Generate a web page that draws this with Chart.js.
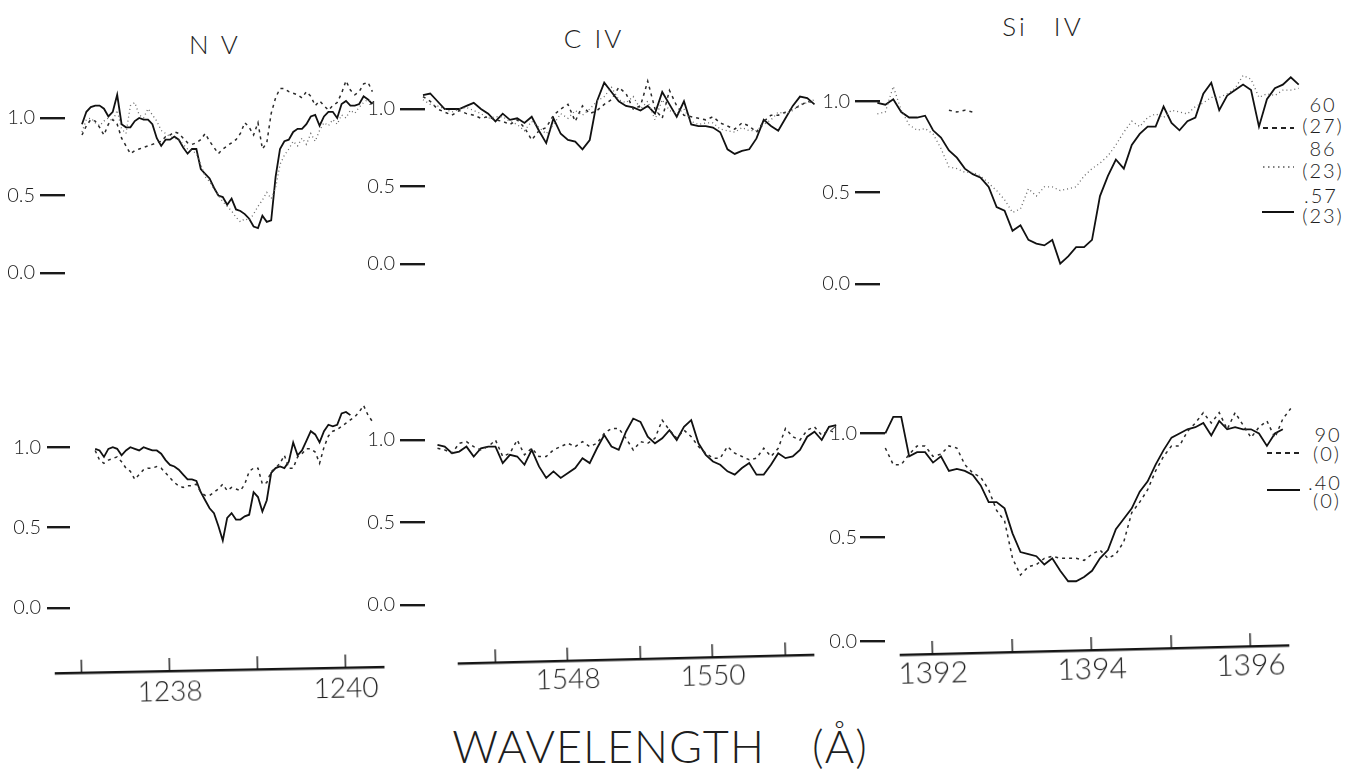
<!DOCTYPE html>
<html>
<head>
<meta charset="utf-8">
<title>UV resonance line profiles</title>
<script src="https://cdn.jsdelivr.net/npm/chart.js@4/dist/chart.umd.min.js"></script>
<style>
  html, body { margin: 0; padding: 0; background: #fff; }
  body { width: 1361px; height: 769px; position: relative; overflow: hidden;
         font-family: "Lato", "Liberation Sans", Arial, sans-serif; font-weight: 300; color: #1e1e1e; }
  canvas { position: absolute; }
  .txt { position: absolute; transform: translate(-50%, -50%); line-height: 1; white-space: pre; }
  .title { font-size: 26px; letter-spacing: 3px; }
  .key { font-size: 20px; letter-spacing: 2px; }
  #keys { position: absolute; left: 0; top: 0; }
</style>
</head>
<body>

<div class="txt title" style="left:215px;top:44px;">N V</div>
<div class="txt title" style="left:594px;top:38px;">C IV</div>
<div class="txt title" style="left:1043px;top:26px;word-spacing:16px;">Si IV</div>

<div class="txt key" style="left:1323px;top:104px;">60</div>
<div class="txt key" style="left:1323px;top:125px;">(27)</div>
<div class="txt key" style="left:1323px;top:148px;">86</div>
<div class="txt key" style="left:1323px;top:170px;">(23)</div>
<div class="txt key" style="left:1321px;top:195px;">.57</div>
<div class="txt key" style="left:1323px;top:215px;">(23)</div>
<div class="txt key" style="left:1328px;top:434px;">90</div>
<div class="txt key" style="left:1327px;top:453px;">(0)</div>
<div class="txt key" style="left:1325px;top:482px;">.40</div>
<div class="txt key" style="left:1327px;top:500px;">(0)</div>

<svg id="keys" width="1361" height="769">
  <line x1="1263" y1="128" x2="1294" y2="128" stroke="#222" stroke-width="1.8" stroke-dasharray="5 4"/>
  <line x1="1263" y1="167" x2="1294" y2="167" stroke="#555" stroke-width="1.5" stroke-dasharray="1.5 3.5"/>
  <line x1="1262" y1="212" x2="1294" y2="212" stroke="#111" stroke-width="2"/>
  <line x1="1267" y1="453" x2="1299" y2="453" stroke="#222" stroke-width="1.8" stroke-dasharray="5 4"/>
  <line x1="1267" y1="490" x2="1300" y2="490" stroke="#111" stroke-width="2"/>
</svg>

<div class="txt" style="left:660px;top:746px;font-size:45px;letter-spacing:1px;word-spacing:34px;">WAVELENGTH (Å)</div>

<script>
// ---------- tick values ----------
const yTickValues = [0, 0.5, 1.0];

const nvAxisTicks = [1237, 1238, 1239, 1240];
const nvAxisLabels = [1238, 1240];
const civAxisTicks = [1547, 1548, 1549, 1550, 1551];
const civAxisLabels = [1548, 1550];
const siivAxisTicks = [1392, 1393, 1394, 1395, 1396];
const siivAxisLabels = [1392, 1394, 1396];

// ---------- N V, upper set (phases .60, .86, .57) ----------
const nvTopWave = [
  1237.00,1237.05,1237.10,1237.15,1237.20,1237.25,1237.30,1237.35,1237.40,1237.45,
  1237.50,1237.55,1237.60,1237.65,1237.70,1237.75,1237.80,1237.85,1237.90,1237.95,
  1238.00,1238.05,1238.10,1238.15,1238.20,1238.25,1238.30,1238.35,1238.40,1238.45,
  1238.50,1238.55,1238.60,1238.65,1238.70,1238.75,1238.80,1238.85,1238.90,1238.95,
  1239.00,1239.05,1239.10,1239.15,1239.20,1239.25,1239.30,1239.35,1239.40,1239.45,
  1239.50,1239.55,1239.60,1239.65,1239.70,1239.75,1239.80,1239.85,1239.90,1239.95,
  1240.00,1240.05,1240.10,1240.15,1240.20,1240.25,1240.30];
const nvTopSolid = [
  0.96,1.04,1.07,1.08,1.08,1.06,1.01,1.04,1.15,0.96,
  0.94,0.94,0.98,1.00,0.99,0.99,0.96,0.87,0.82,0.86,
  0.86,0.88,0.86,0.81,0.77,0.80,0.80,0.67,0.64,0.61,
  0.55,0.50,0.49,0.44,0.48,0.41,0.40,0.38,0.35,0.30,
  0.29,0.37,0.33,0.34,0.62,0.80,0.85,0.86,0.91,0.93,
  0.93,0.96,1.01,1.02,0.95,1.01,1.04,1.04,1.00,1.09,
  1.11,1.08,1.08,1.09,1.14,1.12,1.09];
const nvTopDashed = [
  0.89,0.95,0.99,0.98,0.94,0.89,0.96,0.99,0.96,0.87,
  0.82,0.77,0.79,0.80,0.81,0.82,0.83,0.84,0.85,0.88,
  0.89,0.91,0.90,0.87,0.84,0.83,0.84,0.86,0.90,0.85,
  0.81,0.77,0.80,0.82,0.84,0.86,0.90,0.97,0.94,0.89,
  0.97,0.80,0.84,1.03,1.13,1.19,1.19,1.17,1.16,1.15,
  1.13,1.17,1.14,1.08,1.11,1.08,1.05,1.08,1.10,1.16,
  1.24,1.18,1.15,1.17,1.22,1.23,1.17];
const nvTopDotted = [
  0.91,0.99,1.00,0.97,0.95,0.98,1.00,0.98,1.05,0.93,
  0.90,1.08,1.10,1.02,1.00,1.06,1.02,0.98,0.92,0.90,
  0.88,0.87,0.86,0.83,0.80,0.79,0.77,0.70,0.62,0.59,
  0.54,0.50,0.46,0.43,0.40,0.36,0.33,0.35,0.34,0.38,
  0.43,0.47,0.52,0.48,0.55,0.70,0.76,0.80,0.85,0.82,
  0.87,0.83,0.90,0.85,0.92,0.97,0.95,0.99,0.96,1.02,
  1.00,1.05,1.03,1.07,1.10,1.12,1.10];

// ---------- C IV, upper set ----------
const civTopWave = [
  1545.8,1545.9,1546.0,1546.1,1546.2,1546.3,1546.4,1546.5,1546.6,1546.7,
  1546.8,1546.9,1547.0,1547.1,1547.2,1547.3,1547.4,1547.5,1547.6,1547.7,
  1547.8,1547.9,1548.0,1548.1,1548.2,1548.3,1548.4,1548.5,1548.6,1548.7,
  1548.8,1548.9,1549.0,1549.1,1549.2,1549.3,1549.4,1549.5,1549.6,1549.7,
  1549.8,1549.9,1550.0,1550.1,1550.2,1550.3,1550.4,1550.5,1550.6,1550.7,
  1550.8,1550.9,1551.0,1551.1,1551.2,1551.3,1551.4];
const civTopSolid = [
  1.09,1.11,1.09,1.10,1.05,1.00,1.00,1.00,1.02,1.04,
  1.00,0.97,0.92,0.97,0.93,0.94,0.91,0.95,0.86,0.78,
  0.94,0.84,0.80,0.79,0.74,0.80,1.05,1.17,1.11,1.05,
  1.02,1.01,0.99,1.02,0.97,1.11,1.03,0.95,1.05,0.90,
  0.89,0.89,0.88,0.85,0.74,0.71,0.73,0.74,0.81,0.93,
  0.89,0.86,0.94,1.02,1.08,1.07,1.03];
const civTopDashed = [
  1.06,1.04,1.08,1.05,1.00,0.98,0.96,0.99,0.97,0.96,
  0.94,0.95,0.93,0.92,0.90,0.93,0.88,0.80,0.86,0.88,
  0.96,1.00,1.03,0.92,1.02,0.97,0.99,1.03,1.06,1.14,
  1.10,1.00,1.02,1.18,1.00,0.94,1.12,1.02,0.96,0.95,
  0.94,0.93,0.95,0.91,0.89,0.87,0.91,0.89,0.85,0.92,
  0.96,0.96,0.98,1.00,1.02,1.05,1.04];
const civTopDotted = [
  1.04,1.08,1.06,1.03,1.02,1.00,0.98,1.00,1.01,0.99,
  0.97,0.94,0.95,0.95,0.92,0.90,0.86,0.92,0.88,0.84,
  0.90,0.97,0.94,0.99,0.96,1.00,1.05,1.08,1.14,1.06,
  1.04,1.08,1.00,1.05,0.93,1.06,0.99,0.97,1.00,0.92,
  0.90,0.91,0.91,0.87,0.86,0.85,0.88,0.86,0.86,0.90,
  0.93,0.98,0.97,0.99,1.03,1.04,1.06];

// ---------- Si IV, upper set ----------
const siivTopWave = [
  1391.3,1391.4,1391.5,1391.6,1391.7,1391.8,1391.9,1392.0,1392.1,1392.2,
  1392.3,1392.4,1392.5,1392.6,1392.7,1392.8,1392.9,1393.0,1393.1,1393.2,
  1393.3,1393.4,1393.5,1393.6,1393.7,1393.8,1393.9,1394.0,1394.1,1394.2,
  1394.3,1394.4,1394.5,1394.6,1394.7,1394.8,1394.9,1395.0,1395.1,1395.2,
  1395.3,1395.4,1395.5,1395.6,1395.7,1395.8,1395.9,1396.0,1396.1,1396.2,
  1396.3,1396.4,1396.5,1396.6];
const siivTopSolid = [
  0.99,0.98,1.01,0.94,0.91,0.91,0.92,0.84,0.80,0.73,
  0.69,0.63,0.60,0.58,0.53,0.42,0.40,0.29,0.32,0.24,
  0.22,0.21,0.24,0.11,0.15,0.20,0.20,0.24,0.48,0.59,
  0.68,0.63,0.76,0.82,0.86,0.86,0.97,0.88,0.84,0.89,
  0.91,1.04,1.10,0.95,1.03,1.06,1.09,1.06,0.86,1.01,
  1.07,1.09,1.13,1.09];
const siivTopDotted = [
  0.93,0.94,1.08,0.95,0.87,0.84,0.85,0.82,0.74,0.64,
  0.63,0.61,0.61,0.59,0.55,0.51,0.46,0.39,0.41,0.52,
  0.48,0.53,0.53,0.51,0.52,0.53,0.59,0.63,0.66,0.70,
  0.76,0.83,0.89,0.86,0.91,0.93,0.91,0.95,0.94,0.93,
  0.97,0.99,1.02,1.02,1.04,1.07,1.14,1.12,1.02,1.04,
  1.03,1.06,1.06,1.07];
const siivTopDashed = [
  null,null,null,null,null,null,null,null,null,0.95,
  0.94,0.95,0.94,null,null,null,null,null,null,null,
  null,null,null,null,null,null,null,null,null,null,
  null,null,null,null,null,null,null,null,null,null,
  null,null,null,null,null,null,null,null,null,null,
  null,null,null,null];

// ---------- N V, lower set (phases .90, .40) ----------
const nvBotWave = [
  1237.15,1237.20,1237.25,1237.30,1237.35,1237.40,1237.45,1237.50,1237.55,1237.60,
  1237.65,1237.70,1237.75,1237.80,1237.85,1237.90,1237.95,1238.00,1238.05,1238.10,
  1238.15,1238.20,1238.25,1238.30,1238.35,1238.40,1238.45,1238.50,1238.55,1238.60,
  1238.65,1238.70,1238.75,1238.80,1238.85,1238.90,1238.95,1239.00,1239.05,1239.10,
  1239.15,1239.20,1239.25,1239.30,1239.35,1239.40,1239.45,1239.50,1239.55,1239.60,
  1239.65,1239.70,1239.75,1239.80,1239.85,1239.90,1239.95,1240.00,1240.05,1240.10,
  1240.15,1240.20,1240.25,1240.30];
const nvBotSolid = [
  0.99,0.98,0.94,0.99,1.00,0.99,0.95,0.98,1.00,0.99,
  0.98,1.00,0.99,0.98,0.98,0.96,0.92,0.89,0.88,0.86,
  0.83,0.80,0.80,0.79,0.72,0.67,0.62,0.59,0.51,0.42,
  0.56,0.59,0.55,0.55,0.57,0.58,0.72,0.69,0.60,0.67,
  0.84,0.87,0.88,0.87,0.91,1.03,0.95,0.98,1.04,1.10,
  1.08,1.03,1.10,1.14,1.13,1.14,1.21,1.22,1.20,null,
  null,null,null,null];
const nvBotDashed = [
  0.98,0.92,0.90,0.92,0.93,0.94,0.91,0.87,0.85,0.80,
  0.83,0.86,0.87,0.87,0.88,0.87,0.84,0.81,0.78,0.76,
  0.75,0.76,0.76,0.77,0.72,0.70,0.70,0.72,0.74,0.77,
  0.73,0.75,0.74,0.73,0.77,0.85,0.87,0.87,0.77,0.78,
  0.85,0.87,0.90,0.95,0.87,0.87,0.94,0.96,0.99,0.99,
  0.97,0.90,1.00,1.07,1.10,1.11,1.13,1.15,1.17,1.19,
  1.22,1.26,1.20,1.16];

// ---------- C IV, lower set ----------
const civBotWave = [
  1546.2,1546.3,1546.4,1546.5,1546.6,1546.7,1546.8,1546.9,1547.0,1547.1,
  1547.2,1547.3,1547.4,1547.5,1547.6,1547.7,1547.8,1547.9,1548.0,1548.1,
  1548.2,1548.3,1548.4,1548.5,1548.6,1548.7,1548.8,1548.9,1549.0,1549.1,
  1549.2,1549.3,1549.4,1549.5,1549.6,1549.7,1549.8,1549.9,1550.0,1550.1,
  1550.2,1550.3,1550.4,1550.5,1550.6,1550.7,1550.8,1550.9,1551.0,1551.1,
  1551.2,1551.3,1551.4,1551.5,1551.6,1551.7];
const civBotSolid = [
  0.97,0.96,0.92,0.93,0.96,0.90,0.95,0.96,0.96,0.86,
  0.91,0.90,0.85,0.94,0.84,0.77,0.81,0.77,0.80,0.83,
  0.89,0.86,0.95,1.03,0.96,0.94,1.05,1.13,1.11,1.02,
  0.98,1.01,1.06,1.00,1.08,1.12,0.98,0.91,0.87,0.85,
  0.81,0.79,0.83,0.86,0.79,0.79,0.85,0.92,0.89,0.90,
  0.94,1.02,1.05,1.00,1.08,1.09];
const civBotDashed = [
  0.95,0.94,0.92,0.98,0.99,0.96,0.94,0.96,1.00,0.90,
  0.92,1.00,0.91,0.95,0.90,0.90,0.94,0.96,0.98,0.96,
  0.99,0.96,0.98,1.04,1.07,1.07,1.01,0.94,0.99,0.98,
  1.01,1.12,1.06,1.01,1.06,1.02,0.96,0.92,0.89,0.89,
  0.96,0.92,0.90,0.88,0.89,0.95,0.90,0.95,1.07,1.02,
  1.00,1.06,1.08,1.03,1.06,1.04];

// ---------- Si IV, lower set ----------
const siivBotWave = [
  1391.4,1391.5,1391.6,1391.7,1391.8,1391.9,1392.0,1392.1,1392.2,1392.3,
  1392.4,1392.5,1392.6,1392.7,1392.8,1392.9,1393.0,1393.1,1393.2,1393.3,
  1393.4,1393.5,1393.6,1393.7,1393.8,1393.9,1394.0,1394.1,1394.2,1394.3,
  1394.4,1394.5,1394.6,1394.7,1394.8,1394.9,1395.0,1395.1,1395.2,1395.3,
  1395.4,1395.5,1395.6,1395.7,1395.8,1395.9,1396.0,1396.1,1396.2,1396.3,
  1396.4,1396.5];
const siivBotSolid = [
  1.00,1.08,1.08,0.89,0.91,0.91,0.86,0.89,0.82,0.83,
  0.82,0.80,0.75,0.67,0.67,0.64,0.52,0.43,0.42,0.41,
  0.37,0.40,0.34,0.29,0.29,0.31,0.34,0.40,0.44,0.54,
  0.59,0.64,0.72,0.77,0.85,0.92,0.98,1.00,1.02,1.03,
  1.05,0.99,1.06,1.02,1.03,1.02,1.02,1.00,0.94,1.00,
  1.02,null];
const siivBotDashed = [
  0.93,0.85,0.85,0.90,0.94,0.94,0.89,0.90,0.94,0.93,
  0.85,0.81,0.79,0.73,0.63,0.58,0.40,0.32,0.36,0.37,
  0.40,0.41,0.40,0.40,0.40,0.39,0.42,0.44,0.40,0.42,
  0.48,0.62,0.67,0.73,0.82,0.89,0.94,0.94,1.01,1.05,
  1.10,1.05,1.10,1.02,1.10,1.04,0.98,1.03,1.06,0.98,
  1.07,1.12];

// ---------- drawing ----------
const FONT = '"Lato", "Liberation Sans", Arial, sans-serif';
const INK = '#1e1e1e';

const lineStyles = {
  solid:  { borderColor: '#111111', borderWidth: 1.8, borderDash: [] },
  dashed: { borderColor: '#2a2a2a', borderWidth: 1.5, borderDash: [3, 4] },
  dotted: { borderColor: '#6a6a6a', borderWidth: 1.3, borderDash: [1, 3] }
};

function addCanvas(left, top, w, h, rotate) {
  const c = document.createElement('canvas');
  c.width = w; c.height = h;
  c.style.left = left + 'px';
  c.style.top = top + 'px';
  c.style.width = w + 'px';
  c.style.height = h + 'px';
  if (rotate) c.style.transform = 'rotate(' + rotate + 'deg)';
  document.body.appendChild(c);
  return c;
}

// One spectrum panel: its own y-axis (0.0 / 0.5 / 1.0 with dash marks), hidden wavelength axis.
function spectrumPanel(p) {
  const c = addCanvas(p.left, p.top, p.w, p.h);
  const datasets = p.series.map(s => Object.assign({
    data: p.wave.map((w, i) => ({ x: w, y: s.values[i] })),
    pointRadius: 0,
    tension: 0,
    fill: false,
    spanGaps: false,
    clip: false
  }, lineStyles[s.style]));
  return new Chart(c, {
    type: 'line',
    data: { datasets },
    options: {
      responsive: false,
      animation: false,
      devicePixelRatio: 1,
      layout: { padding: 0 },
      plugins: { legend: { display: false }, tooltip: { enabled: false } },
      scales: {
        x: { type: 'linear', min: p.xMin, max: p.xMax, display: false },
        y: {
          type: 'linear', position: 'left', min: p.yMin, max: p.yMax,
          afterBuildTicks: a => { a.ticks = yTickValues.map(v => ({ value: v })); },
          afterFit: a => { a.width = p.axisW; a.paddingTop = 0; a.paddingBottom = 0; },
          ticks: {
            autoSkip: false,
            padding: p.labelPad,
            color: INK,
            font: { family: FONT, size: 20, weight: '300' },
            callback: v => Number(v).toFixed(1)
          },
          grid: { drawOnChartArea: false, drawTicks: true, tickLength: p.tickLen,
                  color: '#1a1a1a', lineWidth: 2.4 },
          border: { display: false }
        }
      }
    }
  });
}

// Wavelength axis strip: baseline with upward tick marks and labels below.
function wavelengthAxis(p) {
  const c = addCanvas(p.left, p.top, p.w, p.tickH + p.labelH, p.rotate);
  return new Chart(c, {
    type: 'line',
    data: { datasets: [] },
    options: {
      responsive: false,
      animation: false,
      devicePixelRatio: 1,
      layout: { padding: 0 },
      plugins: { legend: { display: false }, tooltip: { enabled: false } },
      scales: {
        y: { display: false, min: 0, max: 1 },
        x: {
          type: 'linear', position: 'bottom', min: p.xMin, max: p.xMax,
          afterBuildTicks: a => { a.ticks = p.ticks.map(v => ({ value: v })); },
          afterFit: a => { a.height = p.labelH; a.paddingLeft = 0; a.paddingRight = 0; },
          ticks: {
            autoSkip: false, maxRotation: 0, minRotation: 0,
            padding: p.labelPad,
            color: INK,
            font: { family: FONT, size: p.fontSize, weight: '300' },
            callback: v => p.labels.includes(v) ? String(v) : ''
          },
          grid: { drawOnChartArea: true, drawTicks: false, color: '#1a1a1a', lineWidth: 1.4 },
          border: { display: true, color: '#151515', width: 2.6 }
        }
      }
    }
  });
}

// upper row
spectrumPanel({ left: 5, top: 56, w: 385, h: 248, axisW: 60, tickLen: 25, labelPad: 5,
  xMin: 1236.807, xMax: 1240.5, yMin: -0.2, yMax: 1.4, wave: nvTopWave,
  series: [ { values: nvTopDotted, style: 'dotted' },
            { values: nvTopDashed, style: 'dashed' },
            { values: nvTopSolid, style: 'solid' } ] });

spectrumPanel({ left: 365, top: 47, w: 465, h: 248, axisW: 60, tickLen: 25, labelPad: 5,
  xMin: 1546.028, xMax: 1551.614, yMin: -0.2, yMax: 1.4, wave: civTopWave,
  series: [ { values: civTopDotted, style: 'dotted' },
            { values: civTopDashed, style: 'dashed' },
            { values: civTopSolid, style: 'solid' } ] });

spectrumPanel({ left: 820, top: 28, w: 480, h: 274, axisW: 60, tickLen: 25, labelPad: 5,
  xMin: 1391.333, xMax: 1396.616, yMin: -0.1, yMax: 1.4, wave: siivTopWave,
  series: [ { values: siivTopDotted, style: 'dotted' },
            { values: siivTopDashed, style: 'dashed' },
            { values: siivTopSolid, style: 'solid' } ] });

// lower row
spectrumPanel({ left: 10, top: 383, w: 380, h: 257, axisW: 60, tickLen: 23, labelPad: 6,
  xMin: 1236.864, xMax: 1240.5, yMin: -0.2, yMax: 1.4, wave: nvBotWave,
  series: [ { values: nvBotDashed, style: 'dashed' },
            { values: nvBotSolid, style: 'solid' } ] });

spectrumPanel({ left: 365, top: 374, w: 475, h: 264, axisW: 60, tickLen: 25, labelPad: 5,
  xMin: 1546.028, xMax: 1551.752, yMin: -0.2, yMax: 1.4, wave: civBotWave,
  series: [ { values: civBotDashed, style: 'dashed' },
            { values: civBotSolid, style: 'solid' } ] });

spectrumPanel({ left: 825, top: 371, w: 475, h: 281, axisW: 60, tickLen: 25, labelPad: 3,
  xMin: 1391.396, xMax: 1396.616, yMin: -0.05, yMax: 1.3, wave: siivBotWave,
  series: [ { values: siivBotDashed, style: 'dashed' },
            { values: siivBotSolid, style: 'solid' } ] });

// wavelength axes
wavelengthAxis({ left: 55, top: 657, w: 330, tickH: 13, labelH: 42, labelPad: 4, fontSize: 28,
  rotate: -1.1, xMin: 1236.693, xMax: 1240.443, ticks: nvAxisTicks, labels: nvAxisLabels });

wavelengthAxis({ left: 458, top: 646, w: 357, tickH: 13, labelH: 42, labelPad: 2, fontSize: 28,
  rotate: -1.4, xMin: 1546.483, xMax: 1551.407, ticks: civAxisTicks, labels: civAxisLabels });

wavelengthAxis({ left: 900, top: 637, w: 390, tickH: 13, labelH: 44, labelPad: 1, fontSize: 30,
  rotate: -1.4, xMin: 1391.585, xMax: 1396.491, ticks: siivAxisTicks, labels: siivAxisLabels });
</script>
</body>
</html>
